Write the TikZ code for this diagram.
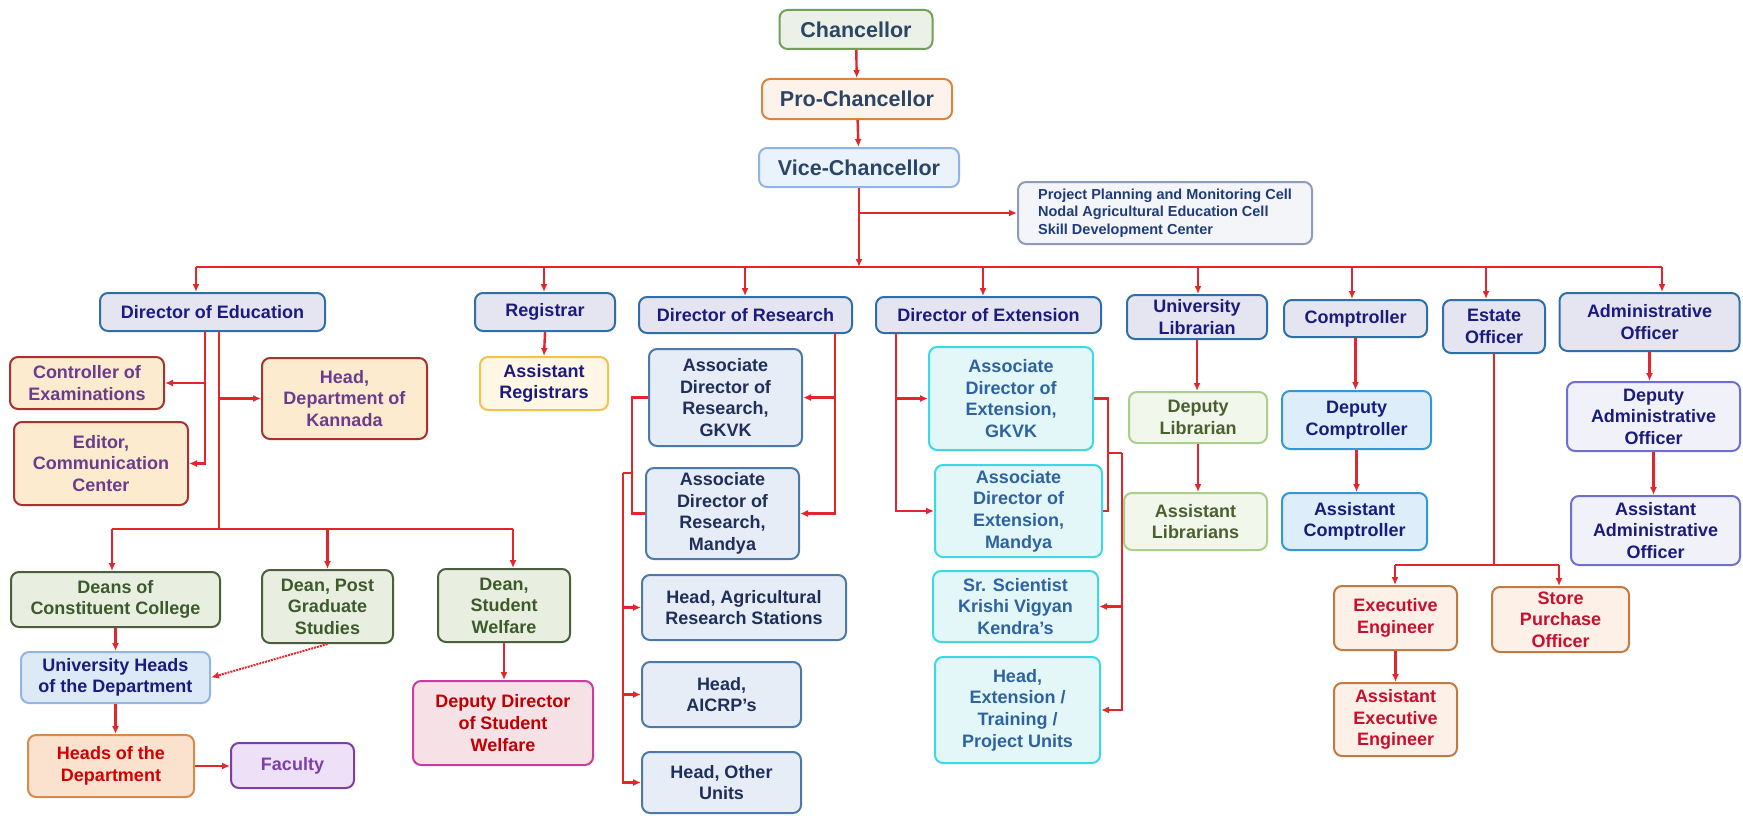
\documentclass[tikz,border=0pt]{standalone}
\usepackage{fontspec}
\setmainfont{Liberation Sans}
\usetikzlibrary{calc}
\usetikzlibrary{arrows.meta}

\definecolor{rosso}{HTML}{E3262B}
\definecolor{ardesia}{HTML}{2B4566}
\definecolor{blu}{HTML}{1B1B7E}

\tikzset{
  box/.style = {draw, rounded corners=8pt, line width=2pt, align=center, inner sep=2pt,
                font=\bfseries\fontsize{18}{21.6}\selectfont},
  vertice/.style = {box, text=ardesia, font=\bfseries\fontsize{21.5}{26}\selectfont},
  cella/.style = {box, fill={rgb,255:red,243;green,245;blue,249}, draw={rgb,255:red,143;green,156;blue,184},
                  text={rgb,255:red,31;green,60;blue,122}, align=left, font=\bfseries\fontsize{14.5}{17.5}\selectfont},
  capo/.style = {box, fill={rgb,255:red,229;green,229;blue,242}, draw={rgb,255:red,47;green,111;blue,165}, text=blu},
  esame/.style = {box, fill={rgb,255:red,253;green,235;blue,207}, draw={rgb,255:red,168;green,50;blue,45},
                  text={rgb,255:red,107;green,60;blue,140}},
  registri/.style = {box, fill={rgb,255:red,255;green,246;blue,227}, draw={rgb,255:red,242;green,193;blue,78}, text=blu},
  ricerca/.style = {box, fill={rgb,255:red,230;green,237;blue,246}, draw={rgb,255:red,76;green,121;blue,168},
                    text={rgb,255:red,31;green,47;blue,90}},
  estensione/.style = {box, fill={rgb,255:red,227;green,247;blue,249}, draw={rgb,255:red,61;green,217;blue,227},
                       text={rgb,255:red,46;green,98;blue,160}},
  decano/.style = {box, fill={rgb,255:red,232;green,239;blue,225}, draw={rgb,255:red,77;green,94;blue,60},
                   text={rgb,255:red,61;green,90;blue,42}},
  biblio/.style = {box, fill={rgb,255:red,241;green,247;blue,234}, draw={rgb,255:red,170;green,207;blue,138},
                   text={rgb,255:red,74;green,96;blue,48}},
  conti/.style = {box, fill={rgb,255:red,221;green,238;blue,250}, draw={rgb,255:red,51;green,153;blue,214}, text=blu},
  ammin/.style = {box, fill={rgb,255:red,241;green,241;blue,250}, draw={rgb,255:red,111;green,111;blue,208}, text=blu},
  tecnico/.style = {box, fill={rgb,255:red,253;green,240;blue,231}, draw={rgb,255:red,194;green,122;blue,67},
                    text={rgb,255:red,200;green,16;blue,46}},
  linea/.style = {rosso, line width=2.4pt},
  conn/.style = {->, rosso, line width=2.4pt}
}

\begin{document}
\begin{tikzpicture}[x=1pt, y=-1pt, >={Latex[length=8pt,width=7pt]}]
  % Sfondo e dimensioni del disegno
  \fill[white] (0,0) rectangle (1743,816);
  \useasboundingbox (0,0) rectangle (1743,816);

  % Vertice dell'universita
  \node[vertice, fill={rgb,255:red,235;green,241;blue,230}, draw={rgb,255:red,114;green,160;blue,90},
        minimum width=153pt, minimum height=39pt] (C) at (856,29.5) {Chancellor};
  \node[vertice, fill={rgb,255:red,253;green,243;blue,234}, draw={rgb,255:red,217;green,132;blue,63},
        minimum width=190pt, minimum height=40pt] (PC) at (857,99) {Pro-Chancellor};
  \node[vertice, fill={rgb,255:red,234;green,242;blue,251}, draw={rgb,255:red,143;green,181;blue,229},
        minimum width=200pt, minimum height=39pt] (VC) at (859,167.5) {Vice-Chancellor};
  \node[cella, minimum width=294pt, minimum height=62pt] (CELL) at (1165,213)
    {Project Planning and Monitoring Cell\\Nodal Agricultural Education Cell\\Skill Development Center};

  % Secondo livello
  \node[capo, minimum width=225pt, minimum height=38pt] (DE) at (212.5,312) {Director of Education};
  \node[capo, minimum width=140pt, minimum height=38pt] (REG) at (545,312) {Registrar};
  \node[capo, minimum width=213pt, minimum height=36pt] (DR) at (745.5,315) {Director of Research};
  \node[capo, minimum width=225pt, minimum height=36pt] (DX) at (988.5,315) {Director of Extension};
  \node[capo, minimum width=140pt, minimum height=44pt, inner sep=1pt] (UL) at (1197,317) {University\\Librarian};
  \node[capo, minimum width=143pt, minimum height=37pt] (CO) at (1355.5,318.5) {Comptroller};
  \node[capo, minimum width=102pt, minimum height=53pt] (EO) at (1494,326.5) {Estate\\Officer};
  \node[capo, minimum width=180pt, minimum height=58pt] (AO) at (1649.5,322) {Administrative\\Officer};

  % Ramo del Director of Education
  \node[esame, minimum width=154pt, minimum height=52pt] (CE) at (87,383) {Controller of\\Examinations};
  \node[esame, minimum width=174pt, minimum height=83pt] (ED) at (101,463.5) {Editor,\\Communication\\Center};
  \node[esame, minimum width=165pt, minimum height=81pt] (HK) at (344.5,398.5) {Head,\\Department of\\Kannada};
  \node[decano, minimum width=209pt, minimum height=55pt] (DC) at (115.5,599.5) {Deans of\\Constituent College};
  \node[decano, minimum width=131pt, minimum height=73pt] (DP) at (327.5,606.5) {Dean, Post\\Graduate\\Studies};
  \node[decano, minimum width=132pt, minimum height=73pt] (DS) at (504,605.5) {Dean,\\Student\\Welfare};
  \node[box, fill={rgb,255:red,220;green,234;blue,247}, draw={rgb,255:red,146;green,182;blue,224}, text=blu,
        minimum width=189pt, minimum height=51pt] (UH) at (115.5,677.5) {University Heads\\of the Department};
  \node[box, fill={rgb,255:red,251;green,226;blue,207}, draw={rgb,255:red,212;green,139;blue,77},
        text={rgb,255:red,212;green,0;blue,0}, minimum width=166pt, minimum height=62pt] (HD) at (111,766) {Heads of the\\Department};
  \node[box, fill={rgb,255:red,237;green,224;blue,247}, draw={rgb,255:red,123;green,63;blue,168},
        text={rgb,255:red,123;green,63;blue,168}, minimum width=123pt, minimum height=45pt] (FA) at (292.5,765.5) {Faculty};
  \node[box, fill={rgb,255:red,246;green,225;blue,230}, draw={rgb,255:red,204;green,59;blue,160},
        text={rgb,255:red,192;green,0;blue,0}, minimum width=180pt, minimum height=84pt] (DD) at (503,723) {Deputy Director\\of Student\\Welfare};

  % Registrar
  \node[registri, minimum width=128pt, minimum height=53pt] (AR) at (544,383.5) {Assistant\\Registrars};

  % Ramo del Director of Research
  \node[ricerca, minimum width=153pt, minimum height=97pt] (ARG) at (725.5,397.5) {Associate\\Director of\\Research,\\GKVK};
  \node[ricerca, minimum width=153pt, minimum height=91pt] (ARM) at (722.5,513.5) {Associate\\Director of\\Research,\\Mandya};
  \node[ricerca, minimum width=204pt, minimum height=65pt] (HA) at (744,607.5) {Head, Agricultural\\Research Stations};
  \node[ricerca, minimum width=159pt, minimum height=65pt] (HC) at (721.5,694.5) {Head,\\AICRP's};
  \node[ricerca, minimum width=159pt, minimum height=61pt] (HO) at (721.5,782.5) {Head, Other\\Units};

  % Ramo del Director of Extension
  \node[estensione, minimum width=164pt, minimum height=103pt] (XG) at (1011,398.5) {Associate\\Director of\\Extension,\\GKVK};
  \node[estensione, minimum width=167pt, minimum height=92pt] (XM) at (1018.5,511) {Associate\\Director of\\Extension,\\Mandya};
  \node[estensione, minimum width=165pt, minimum height=71pt] (KVK) at (1015.5,606.5) {Sr. Scientist\\Krishi Vigyan\\Kendra's};
  \node[estensione, minimum width=165pt, minimum height=106pt] (HX) at (1017.5,710) {Head,\\Extension /\\Training /\\Project Units};

  % Biblioteca, contabilita, amministrazione
  \node[biblio, minimum width=138pt, minimum height=51pt] (DL) at (1198,417.5) {Deputy\\Librarian};
  \node[biblio, minimum width=143pt, minimum height=57pt] (AL) at (1195.5,521.5) {Assistant\\Librarians};
  \node[conti, minimum width=149pt, minimum height=58pt] (DCO) at (1356.5,420) {Deputy\\Comptroller};
  \node[conti, minimum width=145pt, minimum height=57pt] (ACO) at (1354.5,521.5) {Assistant\\Comptroller};
  \node[ammin, minimum width=173pt, minimum height=69pt] (DA) at (1653.5,416.5) {Deputy\\Administrative\\Officer};
  \node[ammin, minimum width=169pt, minimum height=69pt] (AA) at (1655.5,530.5) {Assistant\\Administrative\\Officer};

  % Ramo dell'Estate Officer
  \node[tecnico, minimum width=123pt, minimum height=64pt] (EE) at (1395.5,618) {Executive\\Engineer};
  \node[tecnico, minimum width=137pt, minimum height=65pt] (SP) at (1560.5,619.5) {Store\\Purchase\\Officer};
  \node[tecnico, minimum width=123pt, minimum height=73pt] (AE) at (1395.5,719.5) {Assistant\\Executive\\Engineer};

  % Punti della linea orizzontale principale
  \coordinate (BUS) at (859,267);
  \coordinate (B1) at (196,267); % sopra Director of Education
  \coordinate (B2) at (544,267);
  \coordinate (B3) at (745,267);
  \coordinate (B4) at (983,267);
  \coordinate (B5) at (1198,267);
  \coordinate (B6) at (1352,267);
  \coordinate (B7) at (1486,267);
  \coordinate (B8) at (1662,267); % sopra Administrative Officer

  % Catena in alto
  \draw[conn] (C) -- (PC);
  \draw[conn] (PC) -- (VC);
  \draw[conn] (VC) -- (BUS);
  \draw[conn] (VC.south |- CELL.west) -- (CELL.west);
  \draw[linea] (B1) -- (B8);
  \draw[conn] (B1) -- (B1 |- DE.north);
  \draw[conn] (B2) -- (B2 |- REG.north);
  \draw[conn] (B3) -- (B3 |- DR.north);
  \draw[conn] (B4) -- (B4 |- DX.north);
  \draw[conn] (B5) -- (B5 |- UL.north);
  \draw[conn] (B6) -- (B6 |- CO.north);
  \draw[conn] (B7) -- (B7 |- EO.north);
  \draw[conn] (B8) -- (B8 |- AO.north);

  % Collegamenti Director of Education
  \coordinate (E1) at (205,331);
  \coordinate (E2) at (219,331);
  \coordinate (D1) at (112,529);
  \coordinate (D2) at (219,529);
  \coordinate (D3) at (513,529);
  \draw[conn] (E1) |- (CE.east);
  \draw[conn] (E1) |- (ED.east);
  \draw[linea] (E2) -- (D2);
  \draw[conn] (E2 |- HK.west) -- (HK.west);
  \draw[linea] (D1) -- (D3);
  \draw[conn] (D1) -- (D1 |- DC.north);
  \draw[conn] (D2 -| DP.north) -- (DP.north);
  \draw[conn] (D3) -- (D3 |- DS.north);
  \draw[conn] (DC.south) -- (DC.south |- UH.north);
  \draw[conn] (UH.south) -- (UH.south |- HD.north);
  \draw[conn] (HD.east) -- (HD.east -| FA.west);
  \draw[conn] (DS.south) -- (DS.south |- DD.north);
  \draw[->, rosso, line width=2pt, densely dotted] (DP.south) -- (UH.east);

  % Registrar
  \draw[conn] (REG.south) -- (AR.north);

  % Collegamenti Director of Research
  \coordinate (R1) at (835,333);
  \coordinate (R2) at (632,473);
  \coordinate (R3) at (623,473);
  \draw[conn] (R1) |- (ARG.east);
  \draw[conn] (R1) |- (ARM.east);
  \draw[linea] (ARG.west) -| (R2) |- (ARM.west);
  \draw[linea] (R2) -- (R3);
  \draw[conn] (R3) |- (HA.west);
  \draw[conn] (R3) |- (HC.west);
  \draw[conn] (R3) |- (HO.west);

  % Collegamenti Director of Extension
  \coordinate (X1) at (896,333);
  \coordinate (X2) at (1108,453);
  \coordinate (X3) at (1122,453);
  \draw[conn] (X1) |- (XG.west);
  \draw[conn] (X1) |- (XM.west);
  \draw[linea] (XG.east) -| (X2) |- (XM.east);
  \draw[linea] (X2) -- (X3);
  \draw[conn] (X3) |- (KVK.east);
  \draw[conn] (X3) |- (HX.east);

  % Catene a destra
  \draw[conn] (UL.south) -- (UL.south |- DL.north);
  \draw[conn] (DL.south) -- (DL.south |- AL.north);
  \draw[conn] (CO.south) -- (CO.south |- DCO.north);
  \draw[conn] (DCO.south) -- (DCO.south |- ACO.north);
  \draw[conn] (AO.south) -- (AO.south |- DA.north);
  \draw[conn] (DA.south) -- (DA.south |- AA.north);

  % Estate Officer
  \coordinate (S1) at (1395,565);
  \coordinate (S2) at (1559,565);
  \draw[linea] (EO.south) -- (EO.south |- S1);
  \draw[linea] (S1) -- (S2);
  \draw[conn] (S1) -- (S1 |- EE.north);
  \draw[conn] (S2) -- (S2 |- SP.north);
  \draw[conn] (EE.south) -- (EE.south |- AE.north);
\end{tikzpicture}
\end{document}
